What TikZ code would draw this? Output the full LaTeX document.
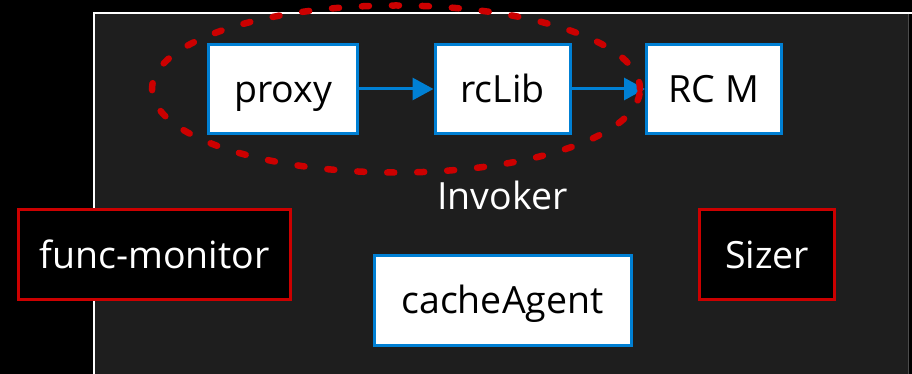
\documentclass[tikz,border=0pt]{standalone}
\usepackage{fontspec}
\setmainfont{Open Sans}
\usetikzlibrary{arrows.meta}
\definecolor{bluebd}{RGB}{0,128,212}
\definecolor{redbd}{RGB}{204,0,0}
\definecolor{panel}{RGB}{30,30,30}
\begin{document}
\begin{tikzpicture}[x=1pt,y=-1pt,
  lbl/.style={font=\fontsize{37.5}{40}\selectfont, text height=27pt, text depth=0pt, inner sep=0pt},
  bluebox/.style={lbl, draw=bluebd, line width=3pt, fill=white, text=black, minimum height=89pt},
  redbox/.style={lbl, draw=redbd, line width=3pt, fill=black, text=white, minimum height=90pt},
  flow/.style={draw=bluebd, line width=3pt, -{Triangle[length=21pt,width=22pt]}},
  group/.style={draw=redbd, line width=6.5pt, line cap=round, dash pattern=on 7pt off 23pt}
]
\useasboundingbox (0,0) rectangle (912,374);
\fill[black] (0,0) rectangle (912,374);
% panel
\fill[panel] (94,13) rectangle (909,374);
\draw[white, line width=2.5pt] (94.2,374) -- (94.2,12.8) -- (912,12.8);
\draw[gray!60!black, line width=1pt] (908.5,14) -- (908.5,374);

\node[bluebox, minimum width=149pt] (proxy) at (283,89) {proxy};
\node[bluebox, minimum width=135pt] (rclib) at (502.5,89) {rcLib};
\node[bluebox, minimum width=135pt] (rcm) at (714,89) {RC M};

\draw[flow] (proxy.east) -- (rclib.west);
\draw[flow] (rclib.east) -- (rcm.west);

\coordinate (gc) at (396,89);
\draw[group] (gc) ellipse [x radius=244pt, y radius=83.5pt];

\node[lbl, text=white, anchor=base] (invoker) at (502.5,209) {Invoker};

\node[redbox, minimum width=272pt] (fm) at (154.7,254.7) {func-monitor};
\node[redbox, minimum width=135pt] (sizer) at (767,254.5) {Sizer};
\node[bluebox, minimum width=257pt, minimum height=90pt] (cache) at (502.5,300) {cacheAgent};
\end{tikzpicture}
\end{document}
